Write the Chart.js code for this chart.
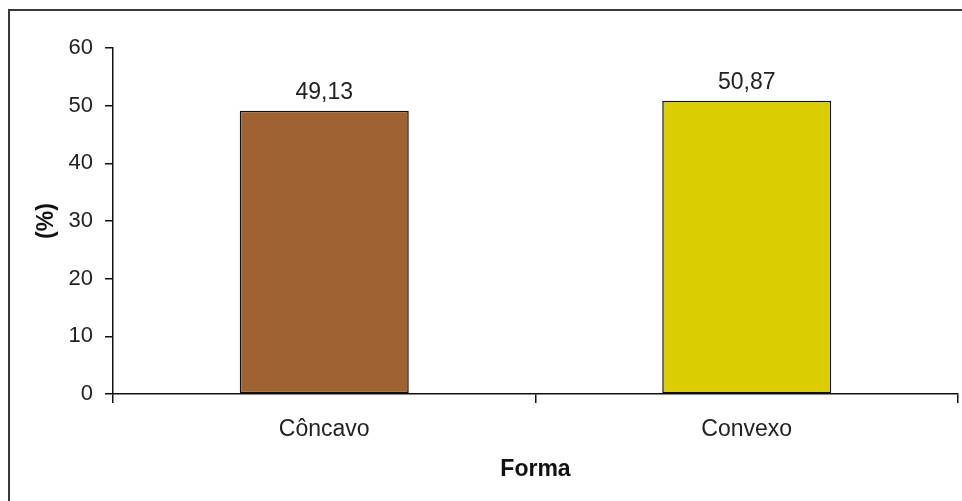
<!DOCTYPE html>
<html>
<head>
<meta charset="utf-8">
<script src="https://cdn.jsdelivr.net/npm/chart.js@4/dist/chart.umd.min.js"></script>
<style>
  html, body { margin: 0; padding: 0; background: #fff; }
  #wrap { width: 962px; height: 501px; position: relative; }
</style>
</head>
<body>
<div id="wrap"><canvas id="c" width="962" height="501"></canvas></div>
<script>
// Share of each shape (Forma), in percent
const categories = ['Côncavo', 'Convexo'];
const percentValues = [49.13, 50.87];
const valueLabels = ['49,13', '50,87'];
const barColors = ['#9e6331', '#dccd00'];
const yTicks = [0, 10, 20, 30, 40, 50, 60];

const FONT = 'Liberation Sans, Arial, sans-serif';

// Outer frame of the chart
const framePlugin = {
  id: 'frame',
  beforeDraw(chart) {
    const ctx = chart.ctx;
    ctx.save();
    ctx.fillStyle = '#fff';
    ctx.fillRect(0, 0, chart.width, chart.height);
    ctx.strokeStyle = '#3a3a3a';
    ctx.lineWidth = 2;
    ctx.strokeRect(9, 10, chart.width + 10, chart.height + 10);
    ctx.restore();
  }
};

// Value written above each bar
const valueLabelPlugin = {
  id: 'valueLabels',
  afterDatasetsDraw(chart) {
    const ctx = chart.ctx;
    const meta = chart.getDatasetMeta(0);
    ctx.save();
    ctx.font = '23px ' + FONT;
    ctx.fillStyle = '#222';
    ctx.textAlign = 'center';
    ctx.textBaseline = 'alphabetic';
    meta.data.forEach((bar, i) => {
      ctx.fillText(valueLabels[i], bar.x, bar.y - 12);
    });
    ctx.restore();
  }
};

new Chart(document.getElementById('c'), {
  type: 'bar',
  data: {
    labels: categories,
    datasets: [{
      data: percentValues,
      backgroundColor: barColors,
      borderColor: '#111',
      borderWidth: 1.5,
      borderSkipped: false,
      barPercentage: 0.4,
      categoryPercentage: 1.0
    }]
  },
  options: {
    responsive: false,
    animation: false,
    devicePixelRatio: 1,
    layout: { padding: { left: 0, top: 48, right: 4, bottom: 0 } },
    plugins: {
      legend: { display: false },
      tooltip: { enabled: false }
    },
    scales: {
      x: {
        afterFit(scale) { scale.height = 107; },
        grid: {
          offset: true,
          drawOnChartArea: false,
          drawTicks: true,
          tickLength: 9,
          lineWidth: 1.5,
          color: '#111',
          tickColor: '#111'
        },
        border: { display: true, color: '#111', width: 1.5 },
        ticks: {
          color: '#222',
          font: { family: FONT, size: 23 },
          padding: 13,
          maxRotation: 0
        },
        title: {
          display: true,
          text: 'Forma',
          color: '#111',
          font: { family: FONT, size: 23, weight: 'bold' },
          padding: { top: 0, bottom: 18 }
        }
      },
      y: {
        min: 0,
        max: 60,
        afterFit(scale) { scale.width = 113; },
        afterBuildTicks(scale) { scale.ticks = yTicks.map(v => ({ value: v })); },
        grid: {
          drawOnChartArea: false,
          drawTicks: true,
          tickLength: 8,
          lineWidth: 1.5,
          color: '#111',
          tickColor: '#111'
        },
        border: { display: true, color: '#111', width: 1.5 },
        ticks: {
          color: '#222',
          font: { family: FONT, size: 22 },
          padding: 12
        },
        title: {
          display: true,
          text: '(%)',
          color: '#111',
          font: { family: FONT, size: 23, weight: 'bold' },
          padding: { top: 33, bottom: 0 }
        }
      }
    }
  },
  plugins: [framePlugin, valueLabelPlugin]
});
</script>
</body>
</html>
